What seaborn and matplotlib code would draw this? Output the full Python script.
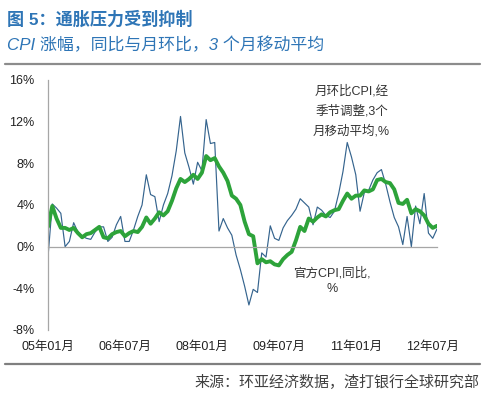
import numpy as np
import matplotlib
matplotlib.use('Agg')
import matplotlib.pyplot as plt
import pandas as pd
import seaborn as sns

# 官方CPI同比 (2005-01 ~ 2012-08)
cpi_yoy = [
    1.9, 3.9, 2.7, 1.8, 1.8, 1.6, 1.8, 1.3, 0.9, 1.2, 1.3, 1.6,
    1.9, 0.9, 0.8, 1.2, 1.4, 1.5, 1.0, 1.3, 1.5, 1.4, 1.9, 2.8,
    2.2, 2.7, 3.3, 3.0, 3.4, 4.4, 5.6, 6.5, 6.2, 6.5, 6.9, 6.5,
    7.1, 8.7, 8.3, 8.5, 7.7, 7.1, 6.3, 4.9, 4.6, 4.0, 2.4, 1.2,
    1.0, -1.6, -1.2, -1.5, -1.4, -1.7, -1.8, -1.2, -0.8, -0.5, 0.6, 1.9,
    1.5, 2.7, 2.4, 2.8, 3.1, 2.9, 3.3, 3.5, 3.6, 4.4, 5.1, 4.6,
    4.9, 4.9, 5.4, 5.3, 5.5, 6.4, 6.5, 6.2, 6.1, 5.5, 4.2, 4.1,
    4.5, 3.2, 3.6, 3.4, 3.0, 2.2, 1.8, 2.0,
]

# 月环比CPI, 季调, 3个月移动平均
cpi_mom = [
    -1.0, 4.1, 3.7, 3.2, 0.0, 0.5, 2.3, 1.4, 1.0, 0.8, 0.7, 1.4,
    1.9, 1.9, 0.5, 0.9, 2.1, 2.9, 0.5, 0.5, 1.6, 2.9, 4.0, 6.9,
    5.0, 4.8, 2.4, 4.0, 5.1, 6.8, 9.2, 12.5, 9.0, 7.6, 6.0, 8.1,
    7.3, 12.2, 9.9, 10.0, 1.5, 2.7, 1.8, 1.1, -0.8, -2.2, -3.8, -5.6,
    -4.1, -4.4, -0.6, -1.0, 2.0, 0.8, 0.6, 1.8, 2.5, 3.0, 3.6, 4.6,
    4.2, 3.8, 2.1, 3.8, 3.5, 3.0, 2.8, 3.4, 5.1, 7.2, 10.0, 8.6,
    6.9, 3.4, 5.2, 5.4, 6.4, 7.1, 7.4, 6.0, 4.3, 2.8, 1.9, 0.2,
    2.9, 0.0, 3.9, 2.2, 5.1, 1.3, 0.8, 1.7,
]

months = pd.date_range('2005-01-01', periods=len(cpi_yoy), freq='MS')
month_labels = [f'{m.year % 100:02d}年{m.month:02d}月' for m in months]
yticks = [-8, -4, 0, 4, 8, 12, 16]

df = pd.DataFrame({'idx': np.arange(len(cpi_yoy)), 'yoy': cpi_yoy, 'mom': cpi_mom})

sns.set_style('white')
plt.rcParams['font.family'] = ['Liberation Sans', 'Noto Sans CJK SC', 'DejaVu Sans']

blue = '#2E75B6'
fig = plt.figure(figsize=(5, 3.95), dpi=100)
ax = fig.add_axes([0.096, 0.1646, 0.778, 0.6329])

sns.lineplot(data=df, x='idx', y='mom', ax=ax, color='#35648E', linewidth=0.85)
sns.lineplot(data=df, x='idx', y='yoy', ax=ax, color='#2DA33A', linewidth=2.8)

ax.set_xlim(0, len(cpi_yoy) - 1)
ax.set_ylim(-8, 16)
ax.set_yticks(yticks)
ax.set_yticklabels([f'{v}%' for v in yticks], fontsize=9, color='#222222')
ax.set_xlabel('')
ax.set_ylabel('')

for s in ['top', 'right']:
    ax.spines[s].set_visible(False)
ax.spines['left'].set_color('#A6A6A6')
ax.spines['left'].set_linewidth(0.9)
ax.spines['bottom'].set_position(('data', 0))
ax.spines['bottom'].set_color('#A6A6A6')
ax.spines['bottom'].set_linewidth(0.9)

xt = list(range(0, len(cpi_yoy), 18))
ax.set_xticks(xt)
ax.tick_params(axis='x', labelbottom=False, length=3, direction='out', color='#A6A6A6')
ax.tick_params(axis='y', length=3.6, direction='out', color='#A6A6A6', pad=6)

sec = ax.secondary_xaxis('bottom')
sec.set_xticks(xt)
sec.set_xticklabels([month_labels[i] for i in xt], fontsize=9, color='#222222')
sec.tick_params(length=0, pad=8)
sec.spines['bottom'].set_visible(False)

ax.text(71, 13.0, '月环比CPI,经\n季节调整,3个\n月移动平均,%', ha='center', va='center',
        fontsize=9, color='#333333', linespacing=1.75)
ax.text(66.5, -3.3, '官方CPI,同比,\n%', ha='center', va='center',
        fontsize=9, color='#333333', linespacing=1.45)

fig.text(0.014, 0.953, '图 5：通胀压力受到抑制', fontsize=12.3, fontweight='bold',
         color=blue, ha='left', va='center')
fig.text(0.014, 0.886, 'CPI 涨幅，同比与月环比，3 个月移动平均', fontsize=12.2, style='italic',
         color=blue, ha='left', va='center')
fig.add_artist(plt.Line2D([0.01, 0.96], [0.838, 0.838], color='#8C8C8C', linewidth=1.6))
fig.add_artist(plt.Line2D([0.01, 0.96], [0.079, 0.079], color='#7F7F7F', linewidth=1.6))
fig.text(0.958, 0.033, '来源：环亚经济数据，渣打银行全球研究部', fontsize=10.8,
         color='#404040', ha='right', va='center')

fig.savefig('out.png', dpi=100)
